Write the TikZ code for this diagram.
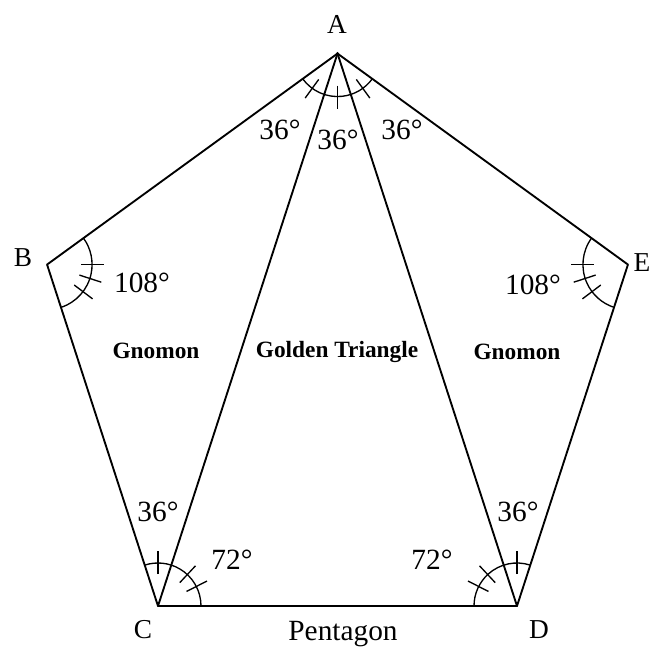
\documentclass[tikz,border=0pt]{standalone}
\usepackage{fontspec}
\setmainfont{Liberation Serif}
\usetikzlibrary{calc}
\begin{document}
\begin{tikzpicture}[x=0.75pt,y=0.75pt,
  edge/.style={line width=1.4pt,line cap=round,line join=round},
  anglearc/.style={line width=1pt},
  tickmark/.style={line width=1pt},
  vlabel/.style={font=\fontsize{20.5}{24}\selectfont,inner sep=0pt},
  alabel/.style={font=\fontsize{22}{26}\selectfont,inner sep=0pt},
  rlabel/.style={font=\bfseries\fontsize{17.5}{20}\selectfont,inner sep=0pt}]
\useasboundingbox (0,0) rectangle (652,651);
% vertices
\coordinate (C) at (158,45);
\coordinate (D) at (517,45);
\coordinate (B) at ($(C)+(108:359)$);
\coordinate (E) at ($(D)+(72:359)$);
\coordinate (A) at ($(B)+(36:359)$);
\fill (A) circle (1.6);
% pentagon and diagonals
\draw[edge] (A) -- (B) -- (C) -- (D) -- (E) -- cycle;
\draw[edge] (A) -- (C);
\draw[edge] (A) -- (D);
% angle arcs
\draw[anglearc] ($(A)+(216:43)$) arc (216:324:43);
\draw[anglearc] ($(B)+(-72:45)$) arc (-72:36:45);
\draw[anglearc] ($(E)+(144:45)$) arc (144:252:45);
\draw[anglearc] ($(C)+(0:43)$) arc (0:108:43);
\draw[anglearc] ($(D)+(72:43)$) arc (72:180:43);
% tick marks
\foreach \a in {234,270,306} \draw[tickmark] ($(A)+(\a:32)$) -- ($(A)+(\a:55)$);
\foreach \a in {0,-18,-37} \draw[tickmark] ($(B)+(\a:34)$) -- ($(B)+(\a:57)$);
\foreach \a in {180,198,217} \draw[tickmark] ($(E)+(\a:34)$) -- ($(E)+(\a:57)$);
\foreach \a in {90,27,47} \draw[tickmark] ($(C)+(\a:32)$) -- ($(C)+(\a:55)$);
\foreach \a in {90,153,133} \draw[tickmark] ($(D)+(\a:32)$) -- ($(D)+(\a:55)$);
% vertex labels
\node[vlabel] (lA) at (337,627) {A};
\node[vlabel] (lB) at (23,393) {B};
\node[vlabel] (lE) at (642,388) {E};
\node[vlabel] (lC) at (143,21) {C};
\node[vlabel] (lD) at (539,21) {D};
% region labels
\node[alabel] (pent) at (343,17) {Pentagon};
\node[rlabel] (gnl) at (156,300) {Gnomon};
\node[rlabel] (gt) at (337,299) {Golden Triangle};
\node[rlabel] (gnr) at (517,299) {Gnomon};
% angle labels
\node[alabel] (a1) at (280,521) {36°};
\node[alabel] (a2) at (338,511) {36°};
\node[alabel] (a3) at (402,521) {36°};
\node[alabel] (b1) at (142,368) {108°};
\node[alabel] (e1) at (533,366) {108°};
\node[alabel] (c1) at (158,139) {36°};
\node[alabel] (c2) at (232,91) {72°};
\node[alabel] (d2) at (432,91) {72°};
\node[alabel] (d1) at (518,139) {36°};
\end{tikzpicture}
\end{document}
